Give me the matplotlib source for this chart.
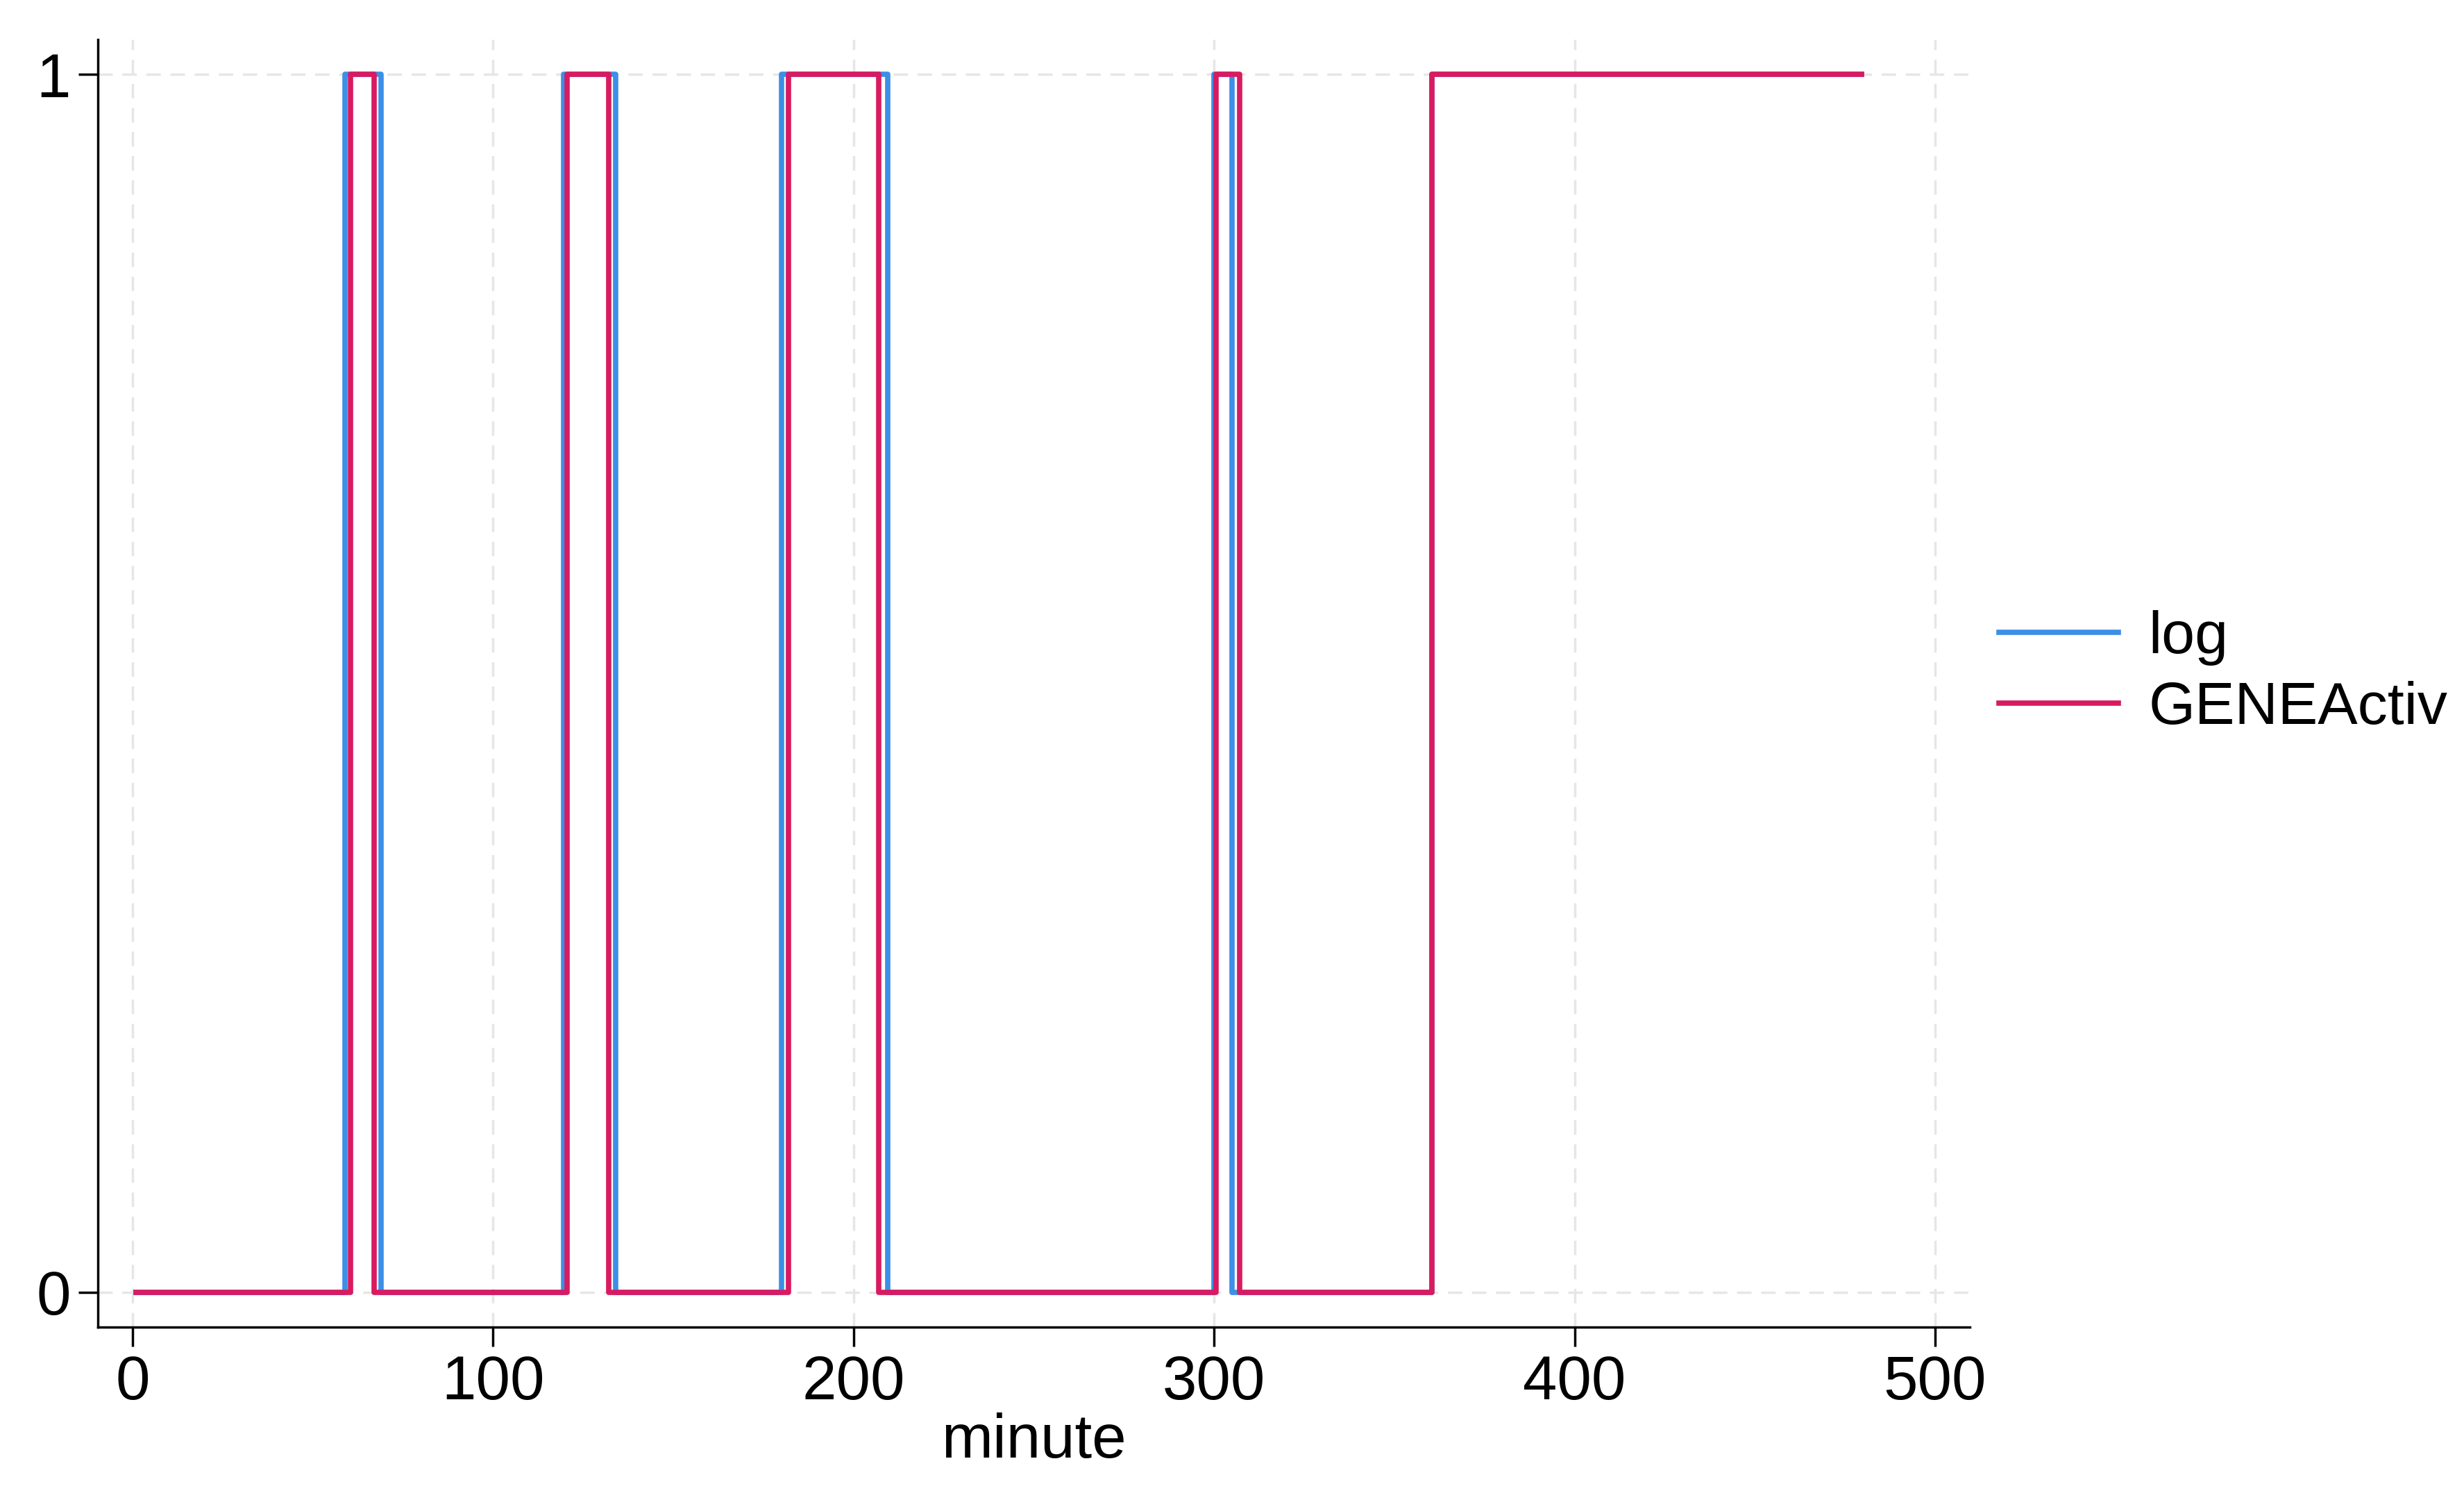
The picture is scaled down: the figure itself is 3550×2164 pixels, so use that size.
import matplotlib
matplotlib.use("Agg")
import matplotlib.pyplot as plt

plt.rcParams['font.family'] = ['Liberation Sans', 'DejaVu Sans']

# step data: x positions where state is given (value held until next x)
log_x = [1, 59, 69, 119.5, 134, 180, 209.5, 300, 305, 360.5, 479.5]
log_y = [0, 1, 0, 1, 0, 1, 0, 1, 0, 1, 1]
gene_x = [1, 60.5, 67, 120.5, 132, 182, 207, 300.5, 307, 360.5, 479.5]
gene_y = [0, 1, 0, 1, 0, 1, 0, 1, 0, 1, 1]

xticks = [0, 100, 200, 300, 400, 500]
yticks = [0, 1]

fig = plt.figure(figsize=(35.5, 21.64), dpi=100)
ax = fig.add_axes([141/3550, 1 - 1912/2164, (2838-141)/3550, (1912-57)/2164])

ax.step(log_x, log_y, where='post', color='#3d8fe6', lw=5.5, label='log')
ax.step(gene_x, gene_y, where='post', color='#d81b60', lw=5.5, label='GENEActiv')

ax.set_xlim(-9.6, 509.6)
ax.set_ylim(-0.0285, 1.0285)
ax.set_xticks(xticks)
ax.set_yticks(yticks)
ax.grid(True, color='#e6e6e6', linestyle=(0, (6, 4)), lw=2.5)
ax.set_axisbelow(True)
for s in ['top', 'right']:
    ax.spines[s].set_visible(False)
for s in ['left', 'bottom']:
    ax.spines[s].set_linewidth(2.5)
ax.tick_params(axis='both', direction='out', length=20, width=2.5, labelsize=64, pad=8)
ax.set_xlabel('minute', fontsize=64, labelpad=0)

leg = fig.legend(handles=ax.get_lines(), loc='center left',
                 bbox_to_anchor=(2880/3550, 1 - 970/2164), frameon=False,
                 fontsize=62, handlelength=2.0, borderaxespad=0, borderpad=0,
                 handletextpad=0.5, labelspacing=0.25)
for l in leg.get_lines():
    l.set_linewidth(5.5)

fig.savefig('out.png', dpi=100, facecolor='white')
